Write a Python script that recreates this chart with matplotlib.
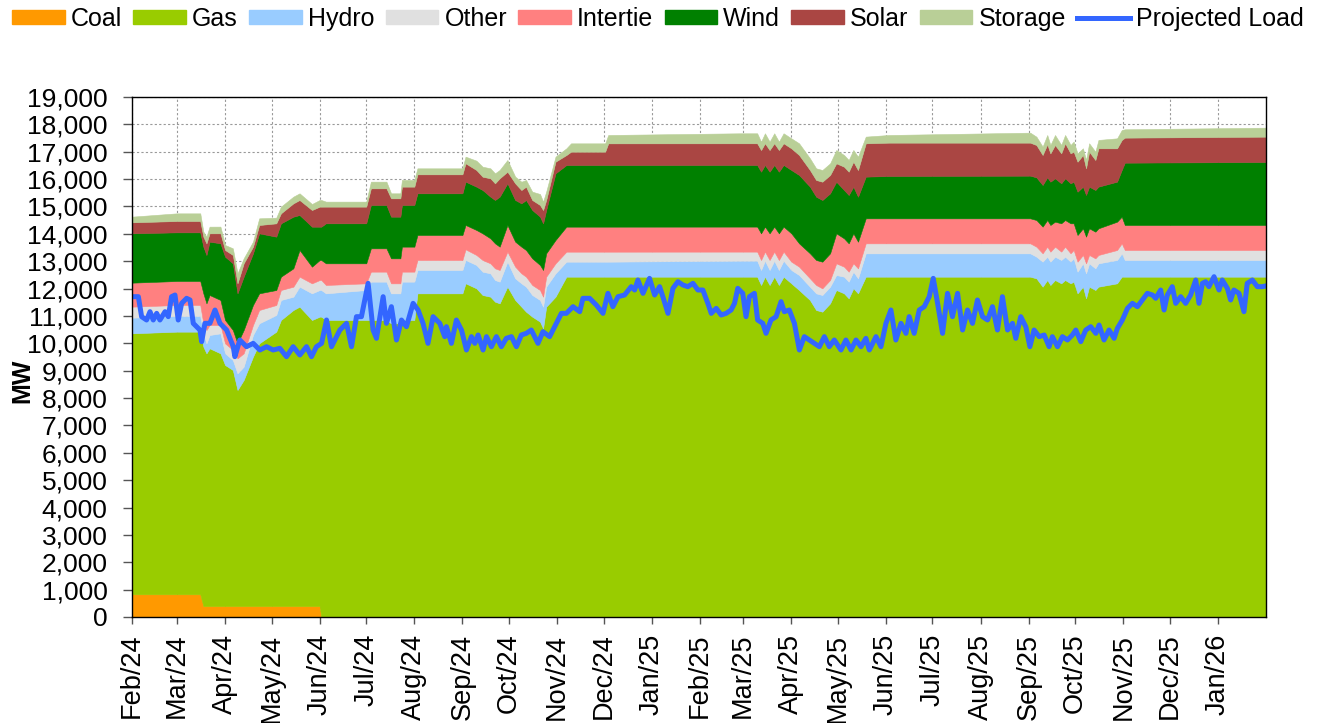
import matplotlib
matplotlib.use("Agg")
import matplotlib.pyplot as plt
import matplotlib.dates as mdates
from matplotlib.patches import Patch
from matplotlib.lines import Line2D
from matplotlib.ticker import FuncFormatter, MultipleLocator
import pandas as pd

plt.rcParams['font.family'] = ['Liberation Sans', 'DejaVu Sans']

START = "2024-02-01"
END = "2026-02-01"

# ---- stacked supply (MW), days after START ----
stack_day = [0, 29, 44, 46, 48, 50, 57, 60, 65, 68, 72, 78, 82, 93, 96, 104, 108, 116, 121, 122,
             125, 151, 154, 164, 167, 173, 174, 182, 184, 213, 215, 222, 226, 231, 234, 237, 242, 247,
             251, 254, 258, 263, 265, 267, 273, 280, 283, 305, 307, 392, 403, 405.5, 408, 411, 414,
             417, 420, 425, 430, 437, 441, 445, 450, 454, 459, 462, 465, 468, 473, 488, 579, 583,
             587, 590, 592, 595, 599, 601.5, 605, 607, 609.5, 613, 615, 617, 621, 623, 635, 638,
             640, 731]
coal = [830, 830, 830, 400, 400, 400, 400, 400, 400, 400, 400, 400, 400, 400, 400, 400, 400, 400, 400, 0,
        0, 0, 0, 0, 0, 0, 0, 0, 0, 0, 0, 0, 0, 0, 0, 0, 0, 0,
        0, 0, 0, 0, 0, 0, 0, 0, 0, 0, 0, 0, 0, 0, 0, 0, 0,
        0, 0, 0, 0, 0, 0, 0, 0, 0, 0, 0, 0, 0, 0, 0, 0, 0,
        0, 0, 0, 0, 0, 0, 0, 0, 0, 0, 0, 0, 0, 0, 0, 0,
        0, 0]
gas = [9535, 9596, 9596, 9477, 9234, 9417, 9234, 8808, 8625, 7894, 8260, 9112, 9599, 10026, 10452, 10817,
       10939, 10452, 10574, 10974,
       10852, 10852, 10852, 10852, 10730, 10730, 10852, 10852, 11826, 11826, 12192, 12009, 11765, 11704,
       11522, 11461, 12070, 11583,
       11339, 11156, 10974, 10791, 10547, 11339, 11704, 12435, 12435, 12435, 12435, 12435, 12435, 12131,
       12435, 12131, 12435,
       12131, 12435, 12192, 11948, 11583, 11217, 11156, 11461, 11948, 11826, 11644, 12009, 11826, 12435,
       12435, 12435, 12374,
       12070, 12313, 12131, 12313, 12192, 12313, 12192, 12252, 11826, 12070, 11644, 12070, 11948, 12070,
       12192, 12435,
       12435, 12435]
hydro = [572, 572, 572, 487, 365, 487, 731, 426, 365, 609, 487, 792, 731, 609, 731, 487, 731, 974, 974, 974,
         974, 1096, 1401, 1401, 1096, 1096, 1401, 1401, 853, 853, 853, 853, 853, 853, 792, 792, 914, 792,
         853, 914, 792, 792, 792, 731, 853, 548, 548, 548, 548, 585, 585, 548, 585, 548, 585,
         548, 585, 487, 548, 487, 609, 609, 609, 548, 609, 609, 609, 548, 853, 853, 853, 792,
         914, 853, 853, 853, 853, 853, 792, 853, 792, 853, 914, 853, 792, 853, 853, 853,
         609, 609]
other = [402, 402, 402, 365, 487, 365, 305, 365, 365, 548, 487, 365, 487, 365, 365, 365, 365, 365, 365, 365,
         305, 244, 365, 365, 365, 365, 365, 365, 365, 365, 390, 365, 426, 365, 426, 426, 365, 426,
         365, 365, 365, 365, 365, 365, 365, 365, 365, 365, 365, 330, 330, 365, 330, 365, 330,
         365, 330, 305, 305, 305, 305, 244, 244, 426, 365, 365, 305, 365, 365, 365, 365, 365,
         305, 365, 365, 365, 305, 365, 305, 305, 365, 305, 365, 305, 365, 305, 365, 365,
         365, 365]
intertie = [877, 877, 877, 1096, 974, 1096, 914, 853, 731, 548, 853, 731, 609, 548, 487, 670, 974, 609, 731,
            731,
            792, 731, 853, 853, 914, 914, 914, 914, 914, 914, 889, 914, 974, 914, 914, 853, 974, 914,
            974, 974, 974, 914, 974, 853, 853, 914, 914, 914, 914, 914, 914, 974, 914, 974, 914,
            974, 914, 1035, 853, 914, 914, 974, 974, 1096, 1035, 1035, 1096, 974, 914, 914, 914, 974,
            974, 974, 974, 914, 1035, 974, 1096, 974, 974, 974, 974, 974, 974, 974, 1035, 974,
            914, 914]
wind = [1803, 1778, 1778, 1705, 1766, 1949, 2071, 2314, 2436, 1827, 1949, 1888, 2192, 1949, 1949, 1888,
        1279, 1462, 1218, 1218,
        1462, 1462, 1583, 1583, 1523, 1523, 1523, 1523, 1523, 1523, 1583, 1583, 1583, 1523, 1583, 1827,
        1523, 1523,
        1583, 1827, 1766, 1766, 1705, 1583, 2436, 2253, 2253, 2253, 2253, 2253, 2253, 2253, 2253, 2253,
        2253,
        2253, 2253, 2314, 2497, 2436, 2314, 2253, 2192, 1888, 1766, 1766, 1705, 1644, 1523, 1547, 1559,
        1559,
        1523, 1559, 1583, 1583, 1462, 1523, 1462, 1523, 1583, 1523, 1523, 1523, 1523, 1523, 1462, 1705,
        2278, 2302]
solar = [402, 414, 414, 365, 426, 305, 365, 244, 305, 365, 487, 244, 305, 487, 365, 487, 548, 609, 731, 731,
         609, 609, 609, 609, 670, 670, 670, 670, 694, 694, 670, 609, 487, 670, 609, 670, 426, 609,
         487, 487, 365, 426, 487, 365, 426, 365, 487, 487, 792, 792, 792, 792, 792, 792, 792,
         792, 792, 792, 731, 609, 609, 670, 670, 670, 853, 853, 914, 974, 1218, 1218, 1206, 1181,
         1096, 1206, 1035, 1218, 1096, 1279, 1096, 1096, 1096, 1157, 974, 1279, 1096, 1401, 1218, 1096,
         914, 926]
storage = [207, 280, 280, 183, 244, 244, 244, 183, 244, 365, 183, 183, 244, 207, 244, 244, 244, 219, 244, 244,
           183, 183, 244, 244, 183, 183, 244, 244, 219, 219, 244, 341, 365, 365, 365, 305, 426, 244,
           305, 244, 305, 402, 305, 305, 183, 244, 305, 305, 305, 365, 365, 305, 365, 305, 365,
           305, 365, 365, 426, 426, 426, 426, 426, 487, 426, 426, 426, 487, 244, 280, 365, 305,
           305, 341, 305, 365, 305, 305, 305, 365, 305, 244, 305, 305, 305, 305, 365, 365,
           305, 329]

# ---- projected load (MW), days after START ----
load_day = [0.9, 4.1, 6.2, 9.4, 11.6, 13.7, 15.9, 18.0, 21.3, 23.4, 25.5, 27.7, 29.8, 32.0, 35.2, 37.4,
            39.5, 43.8, 44.9, 47.0, 50.2, 53.5, 56.7, 61.0, 65.3, 66.3, 69.5, 73.8, 78.1, 82.4, 86.7,
            91.0, 95.3, 99.6, 103.9, 108.2, 112.5, 115.7, 118.9, 122.2, 125.4, 128.6, 134.0, 138.3,
            141.5, 144.7, 147.9, 152.2, 155.4, 157.6, 161.9, 164.0, 167.2, 170.5, 173.7, 176.9,
            181.2, 184.4, 187.6, 190.8, 194.1, 198.4, 201.6, 202.7, 205.9, 209.1, 212.4, 215.6,
            218.8, 221.0, 223.1, 226.3, 228.5, 231.7, 234.9, 238.1, 241.3, 244.6, 247.8, 251.0,
            254.2, 257.4, 261.7, 264.9, 269.2, 273.5, 276.8, 280.0, 284.3, 288.6, 290.7, 295.0,
            299.3, 303.6, 306.8, 310.0, 313.3, 317.5, 321.8, 324.0, 326.1, 329.4, 333.6, 336.9,
            340.1, 342.2, 345.5, 348.7, 351.9, 355.1, 358.3, 361.6, 364.8, 368.0, 371.2, 373.4,
            376.6, 379.8, 383.0, 386.2, 388.4, 390.5, 393.7, 395.8, 398.0, 401.2, 403.3, 406.6,
            408.7, 411.9, 415.2, 418.4, 420.5, 423.7, 427.0, 430.2, 433.4, 436.6, 439.8, 443.1,
            446.3, 449.5, 452.7, 457.0, 460.2, 463.5, 466.7, 469.9, 473.1, 475.3, 479.6, 482.8,
            486.0, 489.2, 492.4, 495.7, 498.9, 501.0, 504.2, 507.5, 510.7, 513.9, 516.5, 519.3,
            522.5, 525.7, 528.9, 532.2, 535.4, 538.6, 541.8, 545.0, 548.3, 551.5, 554.7, 557.9,
            561.1, 564.4, 567.6, 569.7, 572.9, 576.2, 578.8, 581.5, 584.8, 588.0, 591.2, 593.3,
            596.6, 599.8, 603.0, 606.2, 608.4, 611.6, 614.8, 618.0, 621.3, 623.4, 626.6, 629.8,
            633.1, 635.2, 638.4, 641.7, 644.9, 648.1, 651.3, 654.5, 657.8, 659.9, 663.1, 665.3,
            667.4, 670.6, 672.8, 676.0, 679.2, 682.4, 685.7, 687.8, 690.0, 692.1, 694.2, 697.5,
            700.7, 702.8, 706.1, 708.2, 710.3, 713.6, 716.8, 718.9, 722.2, 725.4, 728.6, 730.7]
load_mw = [11704, 11704, 10974, 10852, 11156, 10852, 11095, 10852, 11156, 10974, 11704, 11765, 10852, 11461,
           11644, 11583,
           10730, 10486, 10060, 10730, 10730, 11217, 10730, 10486, 9877, 9512, 10121, 9877, 9999, 9756, 9877,
           9756, 9817, 9512, 9877, 9573, 9877, 9512, 9877, 9999, 10852, 9877, 10486, 10730,
           9877, 10974, 10974, 12192, 10486, 10182, 11704, 10730, 11339, 10121, 10852, 10608,
           11461, 11217, 10730, 9999, 10974, 10730, 10243, 10608, 9999, 10852, 10486, 9756,
           10243, 9999, 10304, 9756, 10243, 9877, 10243, 9877, 10182, 10243, 9877, 10304,
           10365, 10486, 9999, 10426, 10243, 10730, 11095, 11095, 11339, 11156, 11644, 11644,
           11400, 11095, 11826, 11339, 11704, 11765, 12070, 11948, 12313, 11826, 12374, 11765,
           12070, 11704, 11095, 12009, 12252, 12131, 12070, 12192, 11948, 11948, 11461, 11095,
           11278, 11035, 11095, 11217, 11461, 12009, 11826, 10974, 11704, 11826, 10852, 10730,
           10365, 10852, 10974, 11522, 11156, 11217, 10730, 9756, 10243, 10121, 9999, 9877,
           10243, 9877, 10121, 9756, 10121, 9756, 10121, 9877, 10182, 9756, 10243, 9877,
           10730, 11217, 10121, 10730, 10365, 10974, 10365, 11217, 11339, 11704, 12374, 11461,
           10365, 11826, 10974, 11826, 10486, 11217, 10730, 11583, 10974, 10852, 11339, 10486,
           11704, 10486, 10730, 10182, 10974, 10600, 9877, 10486, 10243, 10304, 9877, 10243,
           9877, 10243, 10121, 10304, 10486, 10060, 10486, 10608, 10365, 10669, 10121, 10486,
           10182, 10547, 10852, 11278, 11461, 11339, 11583, 11826, 11765, 11644, 11948, 11217,
           11765, 12070, 11461, 11704, 11461, 11765, 12313, 11461, 12192, 12252, 12070, 12435,
           11948, 12313, 12009, 11583, 11948, 11826, 11156, 12192, 12313, 12070, 12070, 12094]

series_names = ["Coal", "Gas", "Hydro", "Other", "Intertie", "Wind", "Solar", "Storage"]
series_colors = ["#FF9900", "#99CC00", "#99CCFF", "#E0E0E0", "#FF8080", "#008000", "#AA4643", "#B9CF97"]
load_color = "#3366FF"

start = pd.Timestamp(START)
end = pd.Timestamp(END)
sx = start + pd.to_timedelta(stack_day, unit="D")
lx = start + pd.to_timedelta(load_day, unit="D")
month_ticks = pd.date_range(start, end, freq="MS")[:-1]

fig = plt.figure(figsize=(13.22, 7.23), dpi=100)
ax = fig.add_axes([132 / 1322, 106 / 723, 1134 / 1322, 520 / 723])

polys = ax.stackplot(sx, coal, gas, hydro, other, intertie, wind, solar, storage,
                     colors=series_colors, zorder=2)
for p, c in zip(polys, series_colors):
    p.set_edgecolor(c)
    p.set_linewidth(0.4)

ax.plot(lx, load_mw, color=load_color, lw=3.6, solid_joinstyle="round", zorder=3)

ax.set_xlim(start, end)
ax.set_ylim(0, 19000)
ax.yaxis.set_major_locator(MultipleLocator(1000))
ax.yaxis.set_major_formatter(FuncFormatter(lambda v, p: f"{v:,.0f}"))
ax.set_xticks(month_ticks)
ax.xaxis.set_major_formatter(mdates.DateFormatter("%b/%y"))
for lab in ax.get_xticklabels():
    lab.set_rotation(90)

ax.tick_params(axis="both", direction="out", width=1, color="#555555")
ax.tick_params(axis="y", length=6.5, pad=11, labelsize=19)
ax.tick_params(axis="x", length=5, pad=7, labelsize=19.5)
ax.grid(True, color="#999999", linestyle=(0, (2, 2)), linewidth=0.8, zorder=0)
ax.set_axisbelow(True)
for s in ax.spines.values():
    s.set_color("black")
    s.set_linewidth(1.0)
    s.set_zorder(5)

ax.set_ylabel("MW", fontsize=18, fontweight="bold")
ax.yaxis.set_label_coords(-0.086, 0.454)

handles = [Patch(facecolor=c, edgecolor=c) for c in series_colors]
handles.append(Line2D([0], [0], color=load_color, lw=3.6))
labels = series_names + ["Projected Load"]
fig.legend(handles, labels, loc="upper center", bbox_to_anchor=(0.4977, 1.008), ncol=9,
           frameon=False, fontsize=18, handlelength=2.1, handleheight=0.5,
           handletextpad=0.25, columnspacing=0.45, borderaxespad=0.1)

fig.savefig("out.png", dpi=100)
